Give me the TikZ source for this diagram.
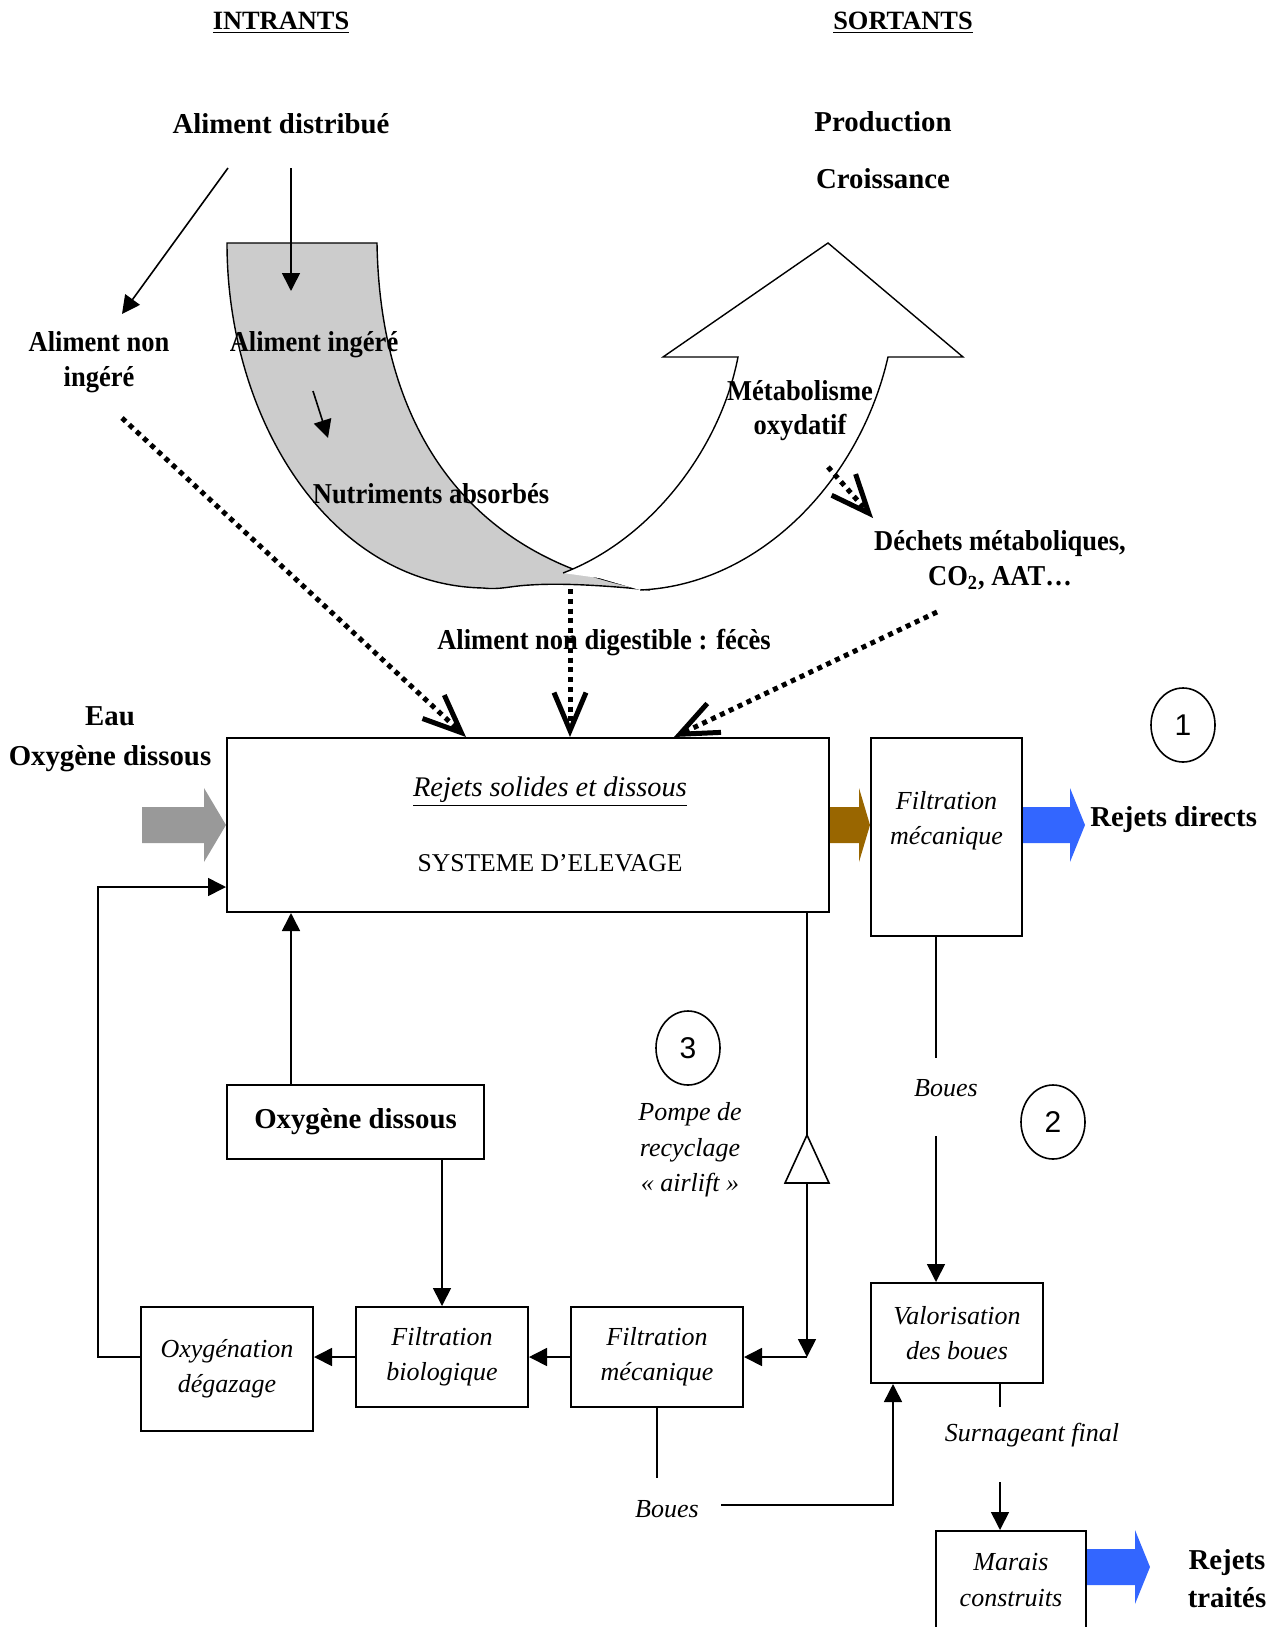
\documentclass[tikz,border=0pt]{standalone}
\usepackage{fontspec}
\setmainfont{Liberation Serif}
\newfontfamily\bcond{Liberation Serif}[FakeStretch=0.92]
\newfontfamily\numfont{Liberation Sans}
\usetikzlibrary{arrows.meta,shapes.geometric,calc}
\definecolor{bandgray}{HTML}{CCCCCC}
\definecolor{arrgray}{HTML}{999999}
\definecolor{brownarr}{HTML}{996600}
\definecolor{bluearr}{HTML}{3366FF}
\newcommand\fatarr[4]{%
  \fill[#1] let \p1=#2, \p2=#3 in
    (\x1,\y1+9pt) -- (\x2-#4,\y1+9pt) -- (\x2-#4,\y1+18.5pt) -- (\x2,\y1)
    -- (\x2-#4,\y1-18.5pt) -- (\x2-#4,\y1-9pt) -- (\x1,\y1-9pt) -- cycle;}
\begin{document}
\begin{tikzpicture}[x=0.5pt,y=-0.5pt,
  box/.style={draw, line width=1pt, inner sep=0pt, align=center},
  bl/.style={font=\fontsize{14.4}{17.5}\selectfont\bfseries, align=center, inner sep=1pt},
  blc/.style={font=\bcond\fontsize{14.4}{17.5}\selectfont\bfseries, align=center, inner sep=1pt},
  it/.style={font=\fontsize{13}{17.7}\selectfont\itshape, align=center, inner sep=1pt},
  conn/.style={line width=0.8pt},
  arr/.style={conn, -{Triangle[length=9pt,width=9pt]}},
  dotarr/.style={line width=2.5pt, dash pattern=on 2.5pt off 2.4pt,
     -{Straight Barb[length=19pt,width=16pt,line width=2.5pt]}},
  num/.style={draw, ellipse, line width=0.8pt, minimum width=32pt, minimum height=37pt,
     inner sep=0pt, font=\numfont\fontsize{15}{18}\selectfont}
]
\useasboundingbox (0,0) rectangle (1280,1627);

% ---------- headings ----------
\node[bl, font=\fontsize{13.2}{16}\selectfont\bfseries] (intr) at (281,23) {\underline{INTRANTS}};
\node[bl, font=\fontsize{13.2}{16}\selectfont\bfseries] (sort) at (903,23) {\underline{SORTANTS}};
\node[bl] (distr) at (281,124) {Aliment distribué};
\node[bl] (prod) at (883,122) {Production};
\node[bl] (crois) at (883,179) {Croissance};

% ---------- gray digestive band ----------
\path[fill=bandgray, draw=black, line width=0.7pt]
  (227,243) -- (377,243)
  .. controls (380,430) and (470,560) .. (650,590)
  .. controls (600,585) and (560,583) .. (530,585)
  .. controls (510,586) and (500,590) .. (483,588)
  .. controls (330,585) and (227,420) .. (227,243) -- cycle;

% ---------- white up-arrow ----------
\fill[white]
  (563,573) .. controls (650,540) and (720,450) .. (738,357)
  -- (663,357) -- (828,243) -- (963,357) -- (888,357)
  .. controls (860,480) and (760,585) .. (640,590) -- (599,578) -- cycle;
\draw[line width=0.7pt]
  (563,573) .. controls (650,540) and (720,450) .. (738,357)
  -- (663,357) -- (828,243) -- (963,357) -- (888,357)
  .. controls (860,480) and (760,585) .. (640,590);

% ---------- texts on top part ----------
\node[blc] (anonin) at (99,362) {Aliment non\\ingéré};
\node[blc] (ingere) at (314,345) {Aliment ingéré};
\node[blc] (nutri) at (431,494) {Nutriments absorbés};
\node[blc, font=\bcond\fontsize{14.4}{17}\selectfont\bfseries] (metab) at (800,411) {Métabolisme\\oxydatif};
\node[blc] (dechets) at (1000,560) {Déchets métaboliques,\\CO\textsubscript{2}, AAT…};
\node[blc] (feces) at (604,643) {Aliment non digestible : fécès};
\node[bl, font=\fontsize{14.4}{20}\selectfont\bfseries] (eau) at (110,739) {Eau\\Oxygène dissous};

\coordinate (d1) at (228,168);
\coordinate (d1e) at (122,314);
\coordinate (d2) at (291,168);
\coordinate (d2e) at (291,291);
\coordinate (i1) at (313,391);
\coordinate (i2) at (328,438);
\draw[arr] (d1) -- (d1e);
\draw[arr] (d2) -- (d2e);
\draw[arr] (i1) -- (i2);

% ---------- main boxes ----------
\node[box, minimum width=301pt, minimum height=87pt] (main) at (528,825) {};
\node[it, font=\fontsize{14.2}{17.7}\selectfont\itshape] (rsd) at (550,792) {\underline{Rejets solides et dissous}};
\node[font=\fontsize{12.8}{15}\selectfont, inner sep=1pt] (syst) at (550,863) {SYSTEME D’ELEVAGE};

\node[box, minimum width=75.5pt, minimum height=99pt] (fm1) at (946.5,837) {};
\node[it] (fm1t) at (946.5,821) {Filtration\\mécanique};

\node[box, minimum width=128.5pt, minimum height=37pt,
      font=\fontsize{14.4}{17}\selectfont\bfseries] (oxd) at (355.5,1122) {Oxygène dissous};
\node[box, it, minimum width=86pt, minimum height=62pt] (oxg) at (227,1369) {Oxygénation\\dégazage};
\node[box, it, minimum width=86pt, minimum height=50pt] (fb) at (442,1357) {Filtration\\biologique};
\node[box, it, minimum width=86pt, minimum height=50pt] (fm2) at (657,1357) {Filtration\\mécanique};
\node[box, it, minimum width=86pt, minimum height=50pt] (val) at (957,1333) {Valorisation\\des boues};
\node[box, it, minimum width=75pt, minimum height=49pt] (mar) at (1011,1580) {Marais\\construits};

% ---------- dotted arrows ----------
\coordinate (an1) at (122,418);
\coordinate (fc1) at (570,589);
\coordinate (dc1) at (937,612);
\coordinate (mt1) at (828,467);
\coordinate (mt2) at (873,518);
\draw[dotarr] (an1) -- ($(main.north west)+(240,0)$);
\draw[dotarr] (fc1) -- (main.north -| fc1);
\draw[dotarr] (dc1) -- ($(main.north west)+(448,0)$);
\draw[dotarr] (mt1) -- (mt2);

% ---------- fat arrows ----------
\coordinate (g0) at (142,825);
\fatarr{arrgray}{(g0)}{(main.west)}{11pt}
\fatarr{brownarr}{(main.east)}{(fm1.west |- main.east)}{5.5pt}
\coordinate (btip) at (1085,825);
\fatarr{bluearr}{(fm1.east |- main.east)}{(btip)}{7.5pt}
\node[bl, anchor=west] (rdir) at (1088,820) {Rejets directs};

\coordinate (ry) at (1150,1567);
\fatarr{bluearr}{(mar.east |- ry)}{(ry)}{7.5pt}
\node[bl, font=\fontsize{14.4}{19}\selectfont\bfseries] (rtr) at (1227,1579) {Rejets\\traités};

% ---------- numbered circles ----------
\node[num] (n1) at (1183,725) {1};
\node[num] (n2) at (1053,1122) {2};
\node[num] (n3) at (688,1048) {3};
\node[it] (pompe) at (690,1150) {Pompe de\\recyclage\\« airlift »};

% ---------- loop connectors ----------
\coordinate (ox) at (291,0);
\draw[arr] (oxd.north -| ox) -- (main.south -| ox);
\draw[arr] (oxd.south -| fb.north) -- (fb.north);
\draw[arr] (fm2.west) -- (fb.west -| fb.east);
\draw[arr] (fb.west) -- (fb.west -| oxg.east);
\coordinate (fbk) at (98,887);
\draw[arr] (oxg.west |- fb.west) -| (fbk) -- (fbk -| main.west);

% recycling line with airlift pump
\coordinate (rx) at (807,0);
\coordinate (corner) at (807,1357);
\draw[arr] (main.south -| rx) -- (corner);
\draw[arr] (corner) -- (fm2.east);
\path[draw, line width=0.8pt, fill=white] (807,1135) -- (829,1183) -- (785,1183) -- cycle;

% ---------- sludge lines ----------
\node[it] (b1) at (946,1088) {Boues};
\coordinate (b1top) at (936,1058);
\coordinate (b1bot) at (936,1136);
\draw[conn] (fm1.south -| b1top) -- (b1top);
\draw[arr] (b1bot) -- (val.north -| b1bot);

\node[it] (b2) at (667,1509) {Boues};
\coordinate (b2top) at (657,1478);
\draw[conn] (fm2.south) -- (b2top);
\coordinate (b2r) at (721,1505);
\coordinate (b2c) at (893,1505);
\draw[arr] (b2r) -- (b2c) -- (val.south -| b2c);

\node[it] (surn) at (1032,1435) {Surnageant final};
\coordinate (s1) at (1000,1407);
\coordinate (s2) at (1000,1482);
\draw[conn] (val.south -| s1) -- (s1);
\draw[arr] (s2) -- (mar.north -| s2);
\end{tikzpicture}
\end{document}
